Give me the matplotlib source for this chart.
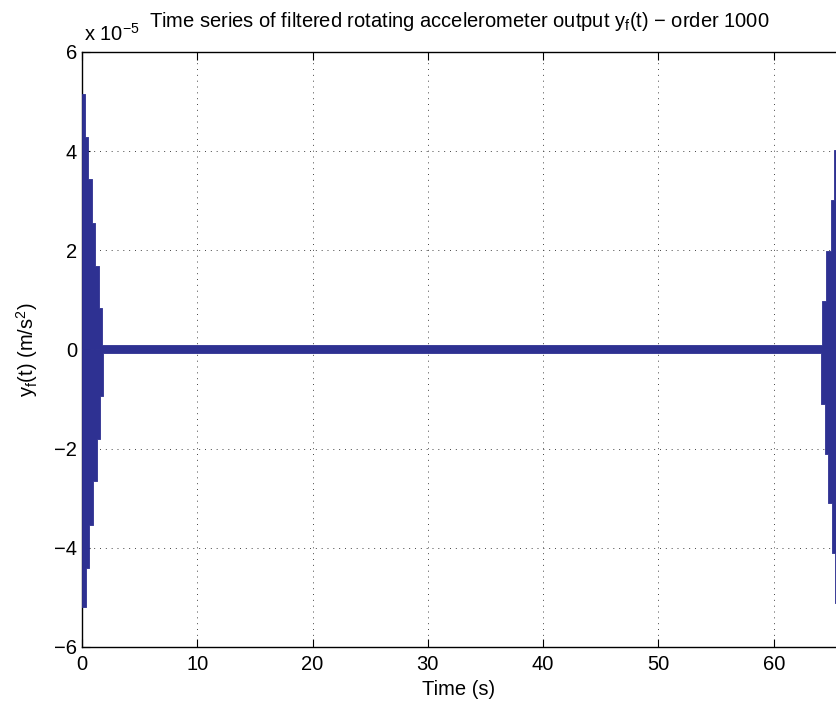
import numpy as np
import matplotlib.pyplot as plt

plt.rcParams['font.family'] = ['Liberation Sans', 'DejaVu Sans']
plt.rcParams['mathtext.fontset'] = 'custom'
plt.rcParams['mathtext.rm'] = 'Liberation Sans'
plt.rcParams['mathtext.it'] = 'Liberation Sans'

# envelope of the filtered signal, values in units of 1e-5 m/s^2
# upper side: step edges (s) and level held from each edge to the next
up_edges = [0.0, 0.27, 0.55, 0.84, 1.14, 1.48, 1.77, 64.22, 64.57, 64.94, 65.22, 65.4]
up_vals = [5.15, 4.29, 3.43, 2.56, 1.68, 0.83, 0.08, 0.98, 1.99, 3.01, 4.03]
# lower side
low_edges = [0.0, 0.32, 0.64, 0.93, 1.27, 1.57, 1.85, 64.07, 64.45, 64.74, 65.03, 65.29, 65.4]
low_vals = [-5.2, -4.4, -3.54, -2.66, -1.8, -0.94, -0.08, -1.11, -2.1, -3.1, -4.11, -5.12]

xticks = [0, 10, 20, 30, 40, 50, 60]
yticks = [-6, -4, -2, 0, 2, 4, 6]

blue = '#2e3192'

fig = plt.figure(figsize=(8.36, 7.07), dpi=100)
ax = fig.add_axes([0.098, 0.085, 0.902, 0.8415])

ax.fill_between(up_edges, up_vals + [up_vals[-1]], 0, step='post',
                color=blue, linewidth=0.6, zorder=3)
ax.fill_between(low_edges, low_vals + [low_vals[-1]], 0, step='post',
                color=blue, linewidth=0.6, zorder=3)

ax.set_xlim(0, 65.4)
ax.set_ylim(-6, 6)
ax.set_xticks(xticks)
ax.set_yticks(yticks)
ax.tick_params(direction='in', length=6, width=0.8, labelsize=14.5,
               top=True, right=False, colors='black')
ax.tick_params(axis='x', pad=6)
ax.grid(True, linestyle=(0, (1, 5)), color='#444444', linewidth=0.7)
ax.set_axisbelow(True)
for s in ['left', 'bottom', 'top']:
    ax.spines[s].set_linewidth(1.0)
ax.spines['right'].set_visible(False)

ax.set_xlabel('Time (s)', fontsize=14.5, labelpad=4)
ax.set_ylabel('y$_f$(t) (m/s$^2$)', fontsize=14.5, labelpad=10)
ax.set_title('Time series of filtered rotating accelerometer output y$_f$(t) \u2212 order 1000',
             fontsize=14.5, pad=18)
ax.text(0.003, 1.012, 'x 10$^{-5}$', transform=ax.transAxes, fontsize=14.5,
        ha='left', va='bottom')

fig.savefig('out.png', dpi=100)
